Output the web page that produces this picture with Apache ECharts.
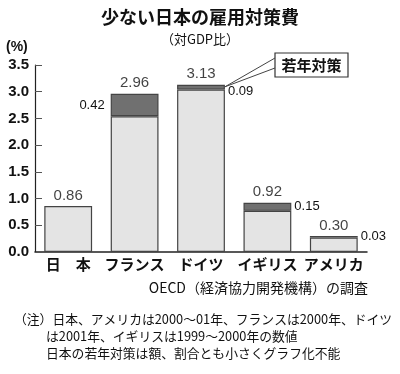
<!DOCTYPE html>
<html><head><meta charset="utf-8">
<script src="https://cdn.jsdelivr.net/npm/echarts@6/dist/echarts.min.js"></script>
<style>html,body{margin:0;padding:0;background:#fff}#c{width:400px;height:374px}</style>
</head><body><div id="c"></div>
<script>
const categories = ['日　本', 'フランス', 'ドイツ', 'イギリス', 'アメリカ'];
const totals = [0.86, 2.96, 3.13, 0.92, 0.30];
const youth = [0, 0.42, 0.09, 0.15, 0.03];
const youthLabels = ['', '0.42', '0.09', '0.15', '0.03'];
const base = totals.map((t, i) => +(t - youth[i]).toFixed(2));
const yTicks = [0, 0.5, 1.0, 1.5, 2.0, 2.5, 3.0, 3.5];

const JP = '"Noto Sans CJK JP", sans-serif';
const NUM = '"Liberation Sans Narrow", "Liberation Sans", Arial, sans-serif';
const NUM2 = '"Liberation Sans", Arial, sans-serif';
const chart = echarts.init(document.getElementById('c'), null, {renderer: 'canvas'});
const option = {
  animation: false,
  backgroundColor: '#fff',
  grid: {left: 35, right: 33, top: 65, bottom: 122},
  title: [
    {text: '少ない日本の雇用対策費', left: 'center', top: 3, textStyle: {fontFamily: JP, fontSize: 18, fontWeight: 'bold', color: '#111'}},
    {text: '（対GDP比）', left: 'center', top: 28, textStyle: {fontFamily: JP, fontSize: 13, fontWeight: 'normal', color: '#111'}}
  ],
  xAxis: {
    type: 'category', data: categories,
    axisLine: {lineStyle: {color: '#222', width: 1.5}},
    axisTick: {show: false},
    axisLabel: {interval: 0, fontFamily: JP, fontSize: 15, fontWeight: 'bold', color: '#111', margin: 5}
  },
  yAxis: {
    type: 'value', min: 0, max: 3.5, interval: 0.5,
    axisLine: {show: true, lineStyle: {color: '#222', width: 1.2}},
    axisTick: {show: true, inside: true, length: 7, lineStyle: {color: '#555'}},
    splitLine: {show: false},
    axisLabel: {fontFamily: NUM, fontSize: 15, fontWeight: 'bold', color: '#111', margin: 6,
      formatter: v => yTicks.includes(v) ? v.toFixed(1) : ''}
  },
  series: [
    {type: 'bar', stack: 's', data: base, barWidth: '72%',
     itemStyle: {color: '#e4e4e4', borderColor: '#444', borderWidth: 1.2}},
    {type: 'bar', stack: 's',
     data: youth.map((v, i) => ({
       value: v,
       itemStyle: v === 0 ? {borderWidth: 0} : {},
       label: {show: v !== 0, position: i === 1 ? 'left' : 'right', formatter: youthLabels[i],
               fontFamily: NUM2, fontSize: 13, color: '#111', distance: i === 1 ? 6 : 3,
               offset: i === 2 ? [0, 4] : [0, 0]}
     })),
     itemStyle: {color: '#707070', borderColor: '#444', borderWidth: 1.2}},
    {type: 'scatter', data: totals, symbolSize: 0, silent: true,
     label: {show: true, position: 'top', distance: 3, formatter: p => p.value.toFixed(2),
             fontFamily: NUM2, fontSize: 15, color: '#111'}}
  ],
  graphic: [
    {type: 'text', left: 6, top: 40, style: {text: '(%)', font: 'bold 14px ' + NUM2, fill: '#111'}},
    {type: 'text', right: 32, top: 281, style: {text: 'OECD（経済協力開発機構）の調査', font: '14px ' + JP, fill: '#111', textAlign: 'right'}},
    {type: 'text', left: 14, top: 313, style: {text: '（注）日本、アメリカは2000～01年、フランスは2000年、ドイツ', font: '12.8px ' + JP, fill: '#111'}},
    {type: 'text', left: 46, top: 330, style: {text: 'は2001年、イギリスは1999～2000年の数値', font: '12.8px ' + JP, fill: '#111'}},
    {type: 'text', left: 46, top: 347, style: {text: '日本の若年対策は額、割合とも小さくグラフ化不能', font: '12.8px ' + JP, fill: '#111'}}
  ]
};
chart.setOption(option);
// callout anchored to the Germany youth segment
const anchor = chart.convertToPixel({seriesIndex: 0}, [2, totals[2]]);
const ax = anchor[0] + 24, ay = anchor[1] + 2;
chart.setOption({graphic: option.graphic.concat([
  {type: 'rect', shape: {x: 275, y: 53, width: 73, height: 24}, style: {fill: '#fff', stroke: '#333', lineWidth: 1.2}},
  {type: 'text', x: 311.5, y: 65, style: {text: '若年対策', font: 'bold 15px ' + JP, fill: '#111', textAlign: 'center', textVerticalAlign: 'middle'}},
  {type: 'line', shape: {x1: 275, y1: 58, x2: ax, y2: ay}, style: {stroke: '#444', lineWidth: 1}},
  {type: 'line', shape: {x1: 275, y1: 68, x2: ax, y2: ay}, style: {stroke: '#444', lineWidth: 1}}
])});
</script></body></html>
